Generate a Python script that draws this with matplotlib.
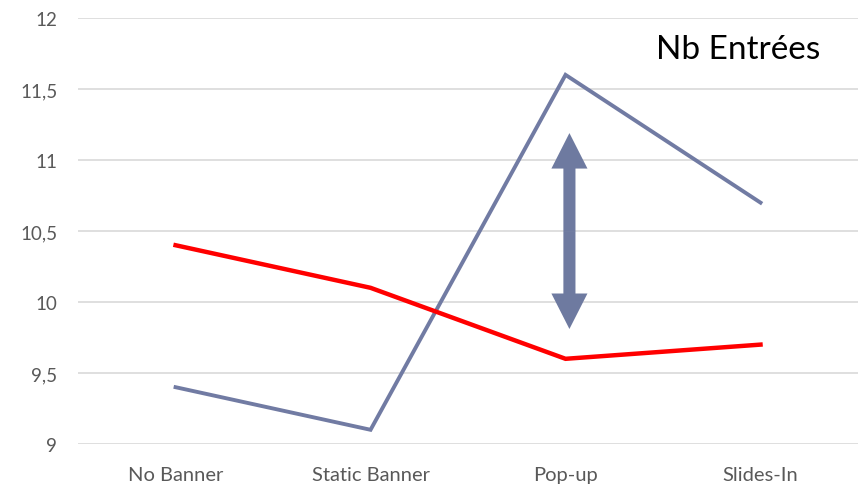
import numpy as np
import matplotlib.pyplot as plt
from matplotlib.patches import FancyArrow

plt.rcParams['font.family'] = ['Lato', 'DejaVu Sans']

categories = ['No Banner', 'Static Banner', 'Pop-up', 'Slides-In']
serie_bleue = [9.4, 9.1, 11.6, 10.7]
serie_rouge = [10.4, 10.1, 9.6, 9.7]
y_ticks = [9, 9.5, 10, 10.5, 11, 11.5, 12]
y_labels = ['9', '9,5', '10', '10,5', '11', '11,5', '12']
fleche_x = 2.02
fleche_bas = 9.81
fleche_haut = 11.19

fig = plt.figure(figsize=(8.58, 4.89), dpi=100)
ax = fig.add_axes([0.091, 0.09, 0.909, 0.871])

x = np.arange(len(categories))
ax.plot(x, serie_bleue, color='#717BA3', lw=2.8, solid_joinstyle='miter', zorder=3)
ax.plot(x, serie_rouge, color='#FF0000', lw=3.2, solid_joinstyle='miter', zorder=3)

# double fleche : deux fleches partant du milieu
milieu = (fleche_bas + fleche_haut) / 2
for fin in (fleche_haut, fleche_bas):
    ax.add_patch(FancyArrow(fleche_x, milieu, 0, fin - milieu, width=0.062,
                            head_width=0.185, head_length=0.25,
                            length_includes_head=True, color='#6E7AA0',
                            lw=0, zorder=4))

ax.set_xlim(-0.5, 3.5)
ax.set_ylim(9, 12)
ax.set_xticks(x)
ax.set_xticklabels(categories)
ax.set_yticks(y_ticks)
ax.set_yticklabels(y_labels)
ax.tick_params(axis='both', length=0, labelsize=13.5, labelcolor='#595959')
ax.tick_params(axis='x', pad=16, labelsize=14.5)
ax.tick_params(axis='y', pad=15)
ax.grid(axis='y', color='#D9D9D9', lw=1.2)
ax.set_axisbelow(True)
for s in ax.spines.values():
    s.set_visible(False)

ax.text(0.951, 0.927, 'Nb Entrées', transform=ax.transAxes, ha='right', va='center',
        fontsize=24, color='black')

fig.savefig('out.png', dpi=100)
